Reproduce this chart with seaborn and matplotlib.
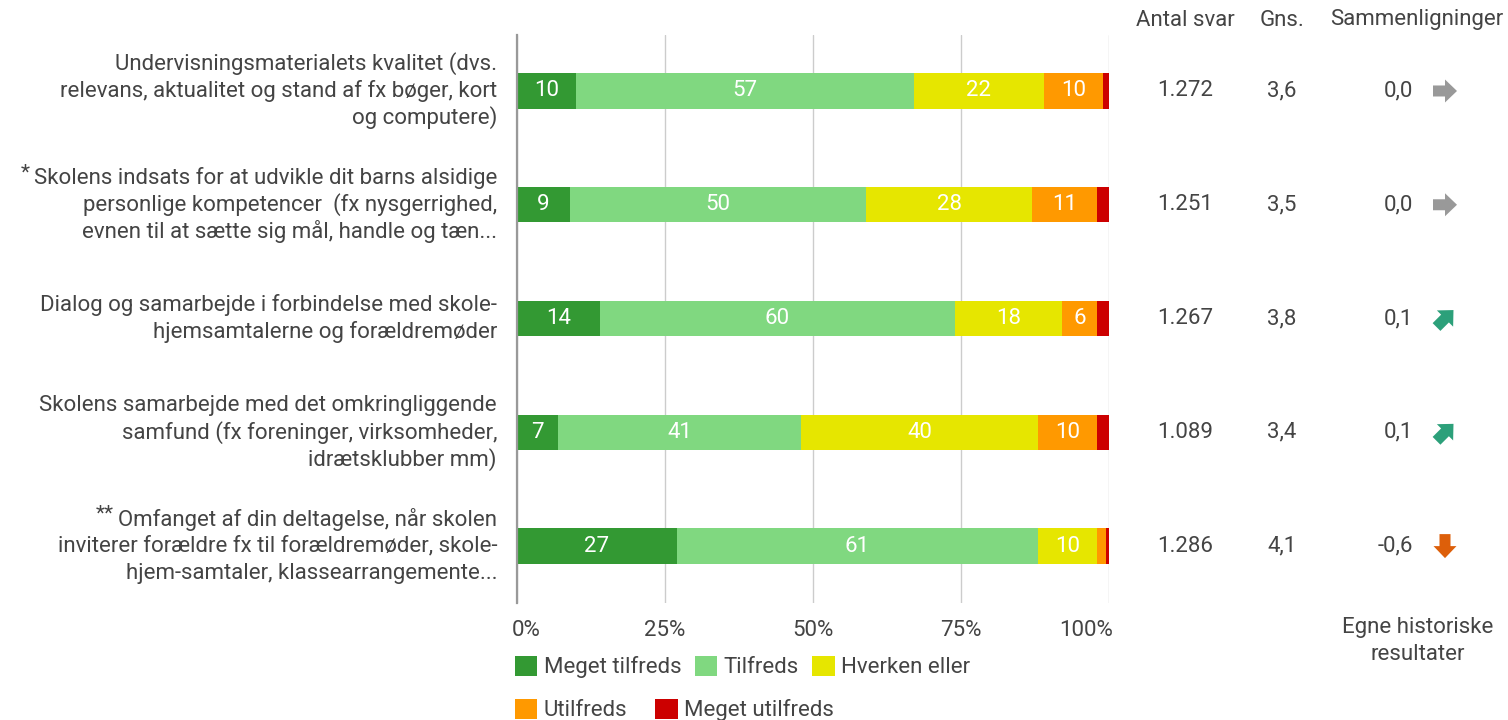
import numpy as np
import pandas as pd
import matplotlib
matplotlib.use("Agg")
import matplotlib.pyplot as plt
import matplotlib.transforms as mtransforms
from matplotlib.patches import Patch, Polygon
import seaborn as sns

# ---- data -------------------------------------------------------------
questions = [
    "Undervisningsmaterialets kvalitet (dvs.\nrelevans, aktualitet og stand af fx bøger, kort\nog computere)",
    "Skolens indsats for at udvikle dit barns alsidige\npersonlige kompetencer  (fx nysgerrighed,\nevnen til at sætte sig mål, handle og tæn...",
    "Dialog og samarbejde i forbindelse med skole-\nhjemsamtalerne og forældremøder",
    "Skolens samarbejde med det omkringliggende\nsamfund (fx foreninger, virksomheder,\nidrætsklubber mm)",
    "Omfanget af din deltagelse, når skolen\ninviterer forældre fx til forældremøder, skole-\nhjem-samtaler, klassearrangemente...",
]
footnote_marks = ["", "*", "", "", "**"]

categories = ["Meget tilfreds", "Tilfreds", "Hverken eller", "Utilfreds", "Meget utilfreds"]
meget_tilfreds = [10, 9, 14, 7, 27]
tilfreds = [57, 50, 60, 41, 61]
hverken_eller = [22, 28, 18, 40, 10]
utilfreds = [10, 11, 6, 10, 1.5]
meget_utilfreds = [1.5, 2, 2, 2, 0.5]

antal_svar = ["1.272", "1.251", "1.267", "1.089", "1.286"]
gennemsnit = ["3,6", "3,5", "3,8", "3,4", "4,1"]
sammenligning = ["0,0", "0,0", "0,1", "0,1", "-0,6"]
trend = ["flat", "flat", "up", "up", "down"]

x_ticks = [0, 25, 50, 75, 100]
x_ticklabels = ["0%", "25%", "50%", "75%", "100%"]

colors = ["#339933", "#80d880", "#e6e600", "#ff9900", "#cc0000"]
text_color = "#444444"
trend_style = {"flat": ("#999999", 0), "up": ("#2ca07a", 45), "down": ("#dd5f0a", -90)}

# ---- styling ----------------------------------------------------------
sns.set_theme(style="white")
plt.rcParams["font.family"] = ["Roboto", "DejaVu Sans"]
FS = 16

W, H, DPI = 1508, 720, 100
fig = plt.figure(figsize=(W / DPI, H / DPI), dpi=DPI)
ax = fig.add_axes([517 / W, 1 - 603 / H, 592 / W, (603 - 35) / H])

# ---- stacked bars (drawn from the cumulative total downwards) ---------
series = [meget_tilfreds, tilfreds, hverken_eller, utilfreds, meget_utilfreds]
vals = np.array(series, dtype=float)
cum = np.cumsum(vals, axis=0)
rows = [f"r{i}" for i in range(len(questions))]

for k in range(len(categories) - 1, -1, -1):
    df = pd.DataFrame({"row": rows, "value": cum[k]})
    sns.barplot(data=df, x="value", y="row", orient="h", color=colors[k],
                saturation=1, width=0.31, linewidth=0, ax=ax)

# segment labels
for k in range(len(categories)):
    for i in range(len(questions)):
        v = vals[k, i]
        if v >= 4:
            center = cum[k, i] - v / 2
            ax.text(center, i, f"{v:g}", ha="center", va="center",
                    color="white", fontsize=FS)

ax.set_xlim(0, 100)
ax.set_ylim(4.50, -0.492)
ax.set_xlabel("")
ax.set_ylabel("")
ax.set_yticks([])
ax.set_xticks(x_ticks)
ax.set_xticklabels(x_ticklabels, fontsize=FS, color=text_color)
ax.tick_params(axis="x", length=0, pad=12)
tl = ax.get_xticklabels()
tl[0].set_horizontalalignment("left")
tl[0].set_transform(tl[0].get_transform() + mtransforms.ScaledTranslation(-5 / DPI, 0, fig.dpi_scale_trans))
tl[-1].set_horizontalalignment("right")
tl[-1].set_transform(tl[-1].get_transform() + mtransforms.ScaledTranslation(4 / DPI, 0, fig.dpi_scale_trans))

ax.grid(axis="x", color="#cccccc", linewidth=1)
ax.set_axisbelow(True)
for s in ["top", "right", "bottom"]:
    ax.spines[s].set_visible(False)
ax.spines["left"].set_color("#999999")
ax.spines["left"].set_linewidth(1.6)
ax.spines["left"].set_zorder(5)

# ---- question labels (right aligned, one text per line) ---------------
row_trans = mtransforms.blended_transform_factory(fig.transFigure, ax.transData)
LINE = 27  # pixels between baselines
for i, q in enumerate(questions):
    lines = q.split("\n")
    n = len(lines)
    first = None
    for j, line in enumerate(lines):
        dy = ((n - 1) / 2 - j) * LINE
        t = ax.text(497 / W, i, line, ha="right", va="center", fontsize=FS,
                    color=text_color,
                    transform=mtransforms.offset_copy(row_trans, fig=fig, y=dy, units="dots"))
        if j == 0:
            first = t
    if footnote_marks[i]:
        ax.annotate(footnote_marks[i], xy=(0, 1), xycoords=first,
                    xytext=(-3, 2), textcoords="offset points",
                    ha="right", va="top", fontsize=FS - 1, color=text_color)

# ---- right-hand columns -------------------------------------------------
hdr_y = 1 - 20 / H
fig.text(1185 / W, hdr_y, "Antal svar", ha="center", va="center", fontsize=FS, color=text_color)
fig.text(1282 / W, hdr_y, "Gns.", ha="center", va="center", fontsize=FS, color=text_color)
fig.text(1417 / W, hdr_y, "Sammenligninger", ha="center", va="center", fontsize=FS, color=text_color)

arrow_shape = np.array([[-12, -5.5], [0, -5.5], [0, -11.5], [12, 0],
                        [0, 11.5], [0, 5.5], [-12, 5.5]])

for i in range(len(questions)):
    ax.text(1185 / W, i, antal_svar[i], ha="center", va="center", fontsize=FS,
            color=text_color, transform=row_trans)
    ax.text(1282 / W, i, gennemsnit[i], ha="center", va="center", fontsize=FS,
            color=text_color, transform=row_trans)
    ax.text(1413 / W, i, sammenligning[i], ha="right", va="center", fontsize=FS,
            color=text_color, transform=row_trans)
    col, ang = trend_style[trend[i]]
    tr = (mtransforms.Affine2D().rotate_deg(ang).scale(1 / DPI)
          + fig.dpi_scale_trans
          + mtransforms.ScaledTranslation(1445 / W, i, row_trans))
    fig.add_artist(Polygon(arrow_shape, closed=True, facecolor=col,
                           edgecolor="none", transform=tr))

fig.text(1418 / W, 1 - 628 / H, "Egne historiske", ha="center", va="center",
         fontsize=FS, color=text_color)
fig.text(1418 / W, 1 - 655 / H, "resultater", ha="center", va="center",
         fontsize=FS, color=text_color)

# ---- legend (two rows) -------------------------------------------------
handles = [Patch(facecolor=c, edgecolor="none", label=l) for c, l in zip(colors, categories)]
leg_kw = dict(frameon=False, fontsize=FS, handlelength=1.0, handleheight=1.0,
              handletextpad=0.3, borderpad=0, borderaxespad=0,
              labelcolor=text_color, loc="center left")
leg1 = fig.legend(handles=handles[:3], ncol=3, columnspacing=0.6,
                  bbox_to_anchor=(515 / W, 1 - 667 / H), **leg_kw)
leg2 = fig.legend(handles=handles[3:], ncol=2, columnspacing=1.25,
                  bbox_to_anchor=(515 / W, 1 - 710 / H), **leg_kw)

fig.savefig("out.png", dpi=DPI, facecolor="white")
